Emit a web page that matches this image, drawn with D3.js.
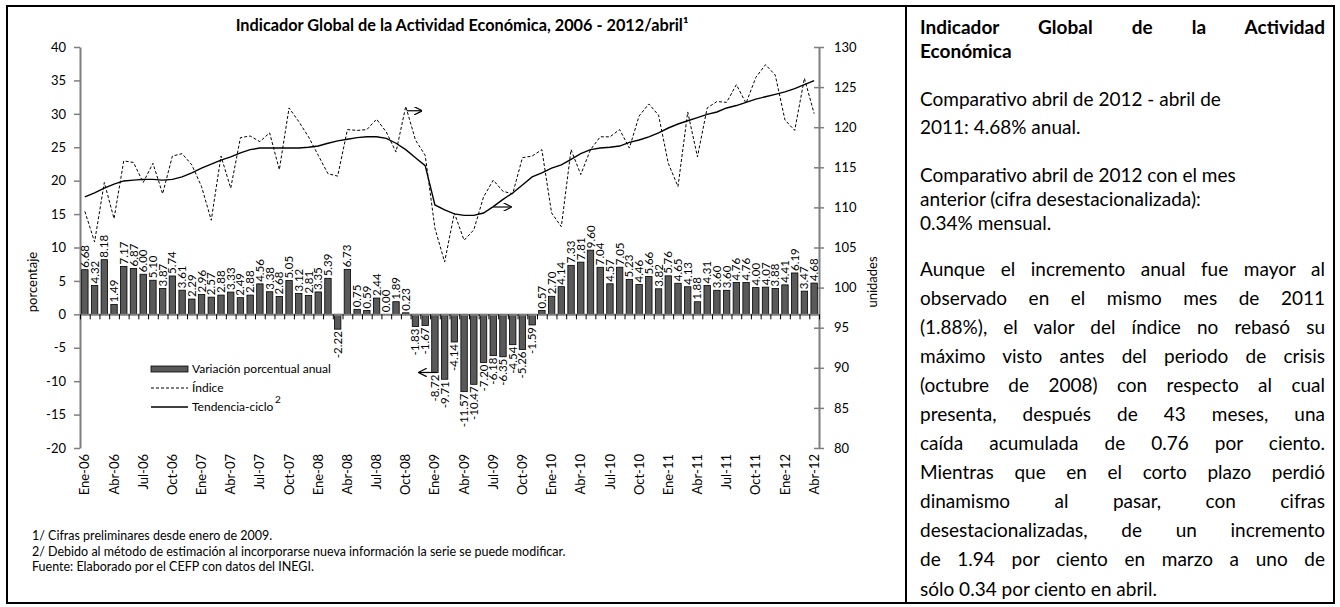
<!DOCTYPE html>
<html>
<head>
<meta charset="utf-8">
<title>Indicador Global de la Actividad Económica</title>
<script src="https://cdnjs.cloudflare.com/ajax/libs/d3/7.8.5/d3.min.js"></script>
<style>
  body { margin: 0; background: #fff; font-family: Lato, "Open Sans", sans-serif; }
  #wrap { position: relative; width: 1340px; height: 607px; }
  svg { position: absolute; left: 0; top: 0; }
  #panel { position: absolute; left: 920px; top: 0; width: 405px; font-size: 19px; color: #000; }
  .line { position: absolute; left: 0; width: 100%; white-space: nowrap; line-height: 20px; }
  .just { text-align: justify; text-align-last: justify; }
  .bold { font-weight: bold; }
</style>
</head>
<body>
<div id="wrap"></div>
<script>
// datos
var anios = [2006, 2007, 2008, 2009, 2010, 2011, 2012];
var meses = ["Ene","Feb","Mar","Abr","May","Jun","Jul","Ago","Sep","Oct","Nov","Dic"];

var variacion = [
  6.68, 4.32, 8.18, 1.49, 7.17, 6.87, 6.00, 5.10, 3.87, 5.74, 3.61, 2.29,
  2.96, 2.57, 2.88, 3.33, 2.49, 2.88, 4.56, 3.38, 2.68, 5.05, 3.12, 2.81,
  3.35, 5.39, -2.22, 6.73, 0.75, 0.59, 2.44, 0.00, 1.89, 0.23, -1.83, -1.67,
  -8.72, -9.71, -4.14, -11.57, -10.47, -7.20, -6.18, -6.35, -4.54, -5.26, -1.59, 0.57,
  2.70, 4.14, 7.33, 7.81, 9.60, 7.04, 4.57, 7.05, 5.23, 4.46, 5.66, 3.82,
  5.76, 4.65, 4.13, 1.88, 4.31, 3.60, 3.60, 4.76, 4.76, 4.00, 4.07, 3.88,
  4.41, 6.19, 3.47, 4.68
];

var indice = [
  109.5, 105.7, 113.1, 108.6, 115.8, 115.6, 113.1, 115.5, 111.7, 116.4, 116.7, 115.3,
  112.6, 108.4, 116.4, 112.4, 118.7, 118.9, 118.2, 119.3, 114.7, 122.4, 120.7, 118.8,
  116.5, 114.2, 113.9, 119.7, 119.6, 119.7, 121.0, 119.4, 116.9, 122.6, 118.4, 116.5,
  107.4, 103.2, 109.3, 105.9, 107.2, 111.3, 113.4, 112.0, 111.7, 116.2, 116.4, 117.2,
  109.3, 107.6, 117.2, 114.1, 117.2, 118.8, 118.8, 119.7, 117.4, 121.4, 122.9, 121.5,
  115.5, 112.6, 121.9, 116.3, 122.4, 123.2, 123.1, 125.3, 123.0, 126.2, 127.8, 126.5,
  120.9, 119.6, 126.1, 121.7
];

var tendencia = [
  111.3, 111.8, 112.4, 112.9, 113.3, 113.4, 113.5, 113.5, 113.4, 113.5, 113.8, 114.3,
  114.9, 115.4, 115.9, 116.3, 116.8, 117.2, 117.4, 117.4, 117.4, 117.4, 117.4, 117.5,
  117.65, 118.0, 118.3, 118.5, 118.7, 118.8, 118.8, 118.6, 118.0, 117.2, 116.2, 115.2,
  110.3, 109.7, 109.2, 109.0, 109.0, 109.3, 110.1, 111.0, 111.8, 112.8, 113.8, 114.3,
  114.9, 115.3, 116.0, 116.7, 117.2, 117.4, 117.5, 117.65, 118.1, 118.4, 118.8, 119.3,
  119.9, 120.4, 120.8, 121.2, 121.6, 121.9, 122.4, 122.7, 123.1, 123.5, 123.8, 124.1,
  124.4, 124.8, 125.3, 125.8
];

var ticksIzq = [-20, -15, -10, -5, 0, 5, 10, 15, 20, 25, 30, 35, 40];
var ticksDer = [80, 85, 90, 95, 100, 105, 110, 115, 120, 125, 130];

var notas = [
  "1/ Cifras preliminares desde enero de 2009.",
  "2/ Debido al método de estimación al incorporarse nueva información la serie se puede modificar.",
  "Fuente: Elaborado por el CEFP con datos del INEGI."
];

// flechas de la grafica: [indice inicio, indice fin, valor, eje]
var flechas = [
  [33.1, 34.6, 122.05, "der"],
  [42.0, 43.8, 110.05, "der"],
  [36.2, 34.4, -8.7, "izq"]
];

var parrafos = [
  { bold: true, lines: [["Indicador Global de la Actividad", true], ["Económica", false]] },
  { lines: [["Comparativo abril de 2012 - abril de", false], ["2011: 4.68% anual.", false]] },
  { lines: [["Comparativo abril de 2012 con el mes", false], ["anterior (cifra desestacionalizada):", false], ["0.34% mensual.", false]] },
  { lines: [
    ["Aunque el incremento anual fue mayor al", true],
    ["observado en el mismo mes de 2011", true],
    ["(1.88%), el valor del índice no rebasó su", true],
    ["máximo visto antes del periodo de crisis", true],
    ["(octubre de 2008) con respecto al cual", true],
    ["presenta, después de 43 meses, una", true],
    ["caída acumulada de 0.76 por ciento.", true],
    ["Mientras que en el corto plazo perdió", true],
    ["dinamismo al pasar, con cifras", true],
    ["desestacionalizadas, de un incremento", true],
    ["de 1.94 por ciento en marzo a uno de", true],
    ["sólo 0.34 por ciento en abril.", false]
  ] }
];
var baselines = [[33, 57], [105, 133], [181, 205, 229],
  [275, 304, 333, 362, 391, 420, 449, 478, 507, 536, 565, 595]];

var categorias = [];
anios.forEach(function(a) {
  meses.forEach(function(m) {
    if (categorias.length < variacion.length) categorias.push(m + "-" + String(a).slice(2));
  });
});

var W = 1340, H = 607;
var mLeft = 80, mRight = 819, mTop = 47, mBottom = 448;
var n = categorias.length;

var wrap = d3.select("#wrap");
var svg = wrap.append("svg").attr("width", W).attr("height", H);

// marcos
svg.append("rect").attr("x", 7).attr("y", 6).attr("width", 899).attr("height", 597)
  .style("fill", "none").style("stroke", "#000").style("stroke-width", 2);
svg.append("rect").attr("x", 906).attr("y", 6).attr("width", 428).attr("height", 597)
  .style("fill", "none").style("stroke", "#000").style("stroke-width", 2);

var x = d3.scaleBand().domain(d3.range(n)).range([mLeft, mRight]).paddingInner(0.34).paddingOuter(0.17);
var xc = function(i) { return x(i) + x.bandwidth() / 2; };
var xi = d3.scaleLinear().domain([0, n]).range([mLeft, mRight]);
var yL = d3.scaleLinear().domain([-20, 40]).range([mBottom, mTop]);
var yR = d3.scaleLinear().domain([80, 130]).range([mBottom, mTop]);

var axisColor = "#7f7f7f";
var fmt = function(d) { return d.toFixed(2); };

// titulo
svg.append("text").attr("x", 462).attr("y", 31).attr("text-anchor", "middle")
  .style("font-size", "16.3px").style("font-weight", "bold")
  .text("Indicador Global de la Actividad Económica, 2006 - 2012/abril¹");

// eje izquierdo
var gL = svg.append("g").attr("transform", "translate(" + mLeft + ",0)")
  .call(d3.axisLeft(yL).tickValues(ticksIzq).tickFormat(function(d) { return String(d); })
    .tickSize(6).tickPadding(8).tickSizeOuter(0));

// eje derecho
var gR = svg.append("g").attr("transform", "translate(" + mRight + ",0)")
  .call(d3.axisRight(yR).tickValues(ticksDer).tickFormat(function(d) { return String(d); })
    .tickSize(5).tickPadding(10).tickSizeOuter(0));
gR.selectAll(".tick line").attr("x1", -5);

[gL, gR].forEach(function(g) {
  g.select(".domain").style("stroke", axisColor).style("stroke-width", 2);
  g.selectAll(".tick line").style("stroke", axisColor).style("stroke-width", 1.5);
  g.selectAll("text").style("font-size", "13px").style("font-family", "Lato").style("fill", "#000");
});

// titulos de ejes
svg.append("text").attr("transform", "translate(37,282) rotate(-90)")
  .attr("text-anchor", "middle").style("font-size", "13px").text("porcentaje");
svg.append("text").attr("transform", "translate(877,282) rotate(-90)")
  .attr("text-anchor", "middle").style("font-size", "13px").text("unidades");

// barras
svg.append("g").selectAll("rect").data(variacion).join("rect")
  .attr("x", function(d, i) { return x(i); })
  .attr("width", x.bandwidth())
  .attr("y", function(d) { return Math.min(yL(d), yL(0)); })
  .attr("height", function(d) { return Math.abs(yL(d) - yL(0)); })
  .style("fill", "#595959").style("stroke", "#000").style("stroke-width", 0.8);

// eje x en cero
var gX = svg.append("g").attr("transform", "translate(0," + yL(0) + ")")
  .call(d3.axisBottom(xi).tickValues(d3.range(n + 1)).tickFormat("").tickSize(5).tickSizeOuter(0));
gX.select(".domain").style("stroke", axisColor).style("stroke-width", 2);
gX.selectAll(".tick line").style("stroke", "#000").style("stroke-width", 1);

// etiquetas de categorias
svg.append("g").selectAll("text").data(categorias).join("text")
  .filter(function(d, i) { return i % 3 === 0; })
  .attr("transform", function(d) { var i = categorias.indexOf(d); return "translate(" + xc(i) + "," + (mBottom + 6) + ") rotate(-90)"; })
  .attr("dy", "0.35em").attr("text-anchor", "end")
  .style("font-size", "13px").text(function(d) { return d; });

// etiquetas de barras
svg.append("g").selectAll("text").data(variacion).join("text")
  .attr("transform", function(d, i) {
    var y = d >= 0 ? yL(d) - 2 : yL(d) + 2;
    return "translate(" + xc(i) + "," + y + ") rotate(-90)";
  })
  .attr("dy", "0.35em")
  .attr("text-anchor", function(d) { return d >= 0 ? "start" : "end"; })
  .style("font-size", "11.5px")
  .text(fmt);

// lineas
var linea = d3.line().x(function(d, i) { return xc(i); }).y(function(d) { return yR(d); });
svg.append("path").datum(indice).attr("d", linea)
  .style("fill", "none").style("stroke", "#000").style("stroke-width", 1).style("stroke-dasharray", "3,2");
svg.append("path").datum(tendencia).attr("d", linea)
  .style("fill", "none").style("stroke", "#000").style("stroke-width", 1.4);

// flechas
svg.append("defs").append("marker").attr("id", "punta")
  .attr("viewBox", "0 0 8 8").attr("refX", 7).attr("refY", 4)
  .attr("markerWidth", 7).attr("markerHeight", 7).attr("orient", "auto")
  .append("path").attr("d", "M0,0 L8,4 L0,8").style("fill", "none").style("stroke", "#000").style("stroke-width", 1.2);
svg.append("g").selectAll("line").data(flechas).join("line")
  .attr("x1", function(d) { return xi(d[0] + 0.5); })
  .attr("x2", function(d) { return xi(d[1] + 0.5); })
  .attr("y1", function(d) { return d[3] === "der" ? yR(d[2]) : yL(d[2]); })
  .attr("y2", function(d) { return d[3] === "der" ? yR(d[2]) : yL(d[2]); })
  .attr("marker-end", "url(#punta)")
  .style("stroke", "#000").style("stroke-width", 1.2);

// leyenda
var ley = svg.append("g").attr("transform", "translate(151,369)");
ley.append("rect").attr("x", 0).attr("y", -3).attr("width", 37).attr("height", 6)
  .style("fill", "#595959").style("stroke", "#000").style("stroke-width", 0.8);
ley.append("line").attr("x1", 0).attr("x2", 37).attr("y1", 19).attr("y2", 19)
  .style("stroke", "#000").style("stroke-dasharray", "3,2");
ley.append("line").attr("x1", 0).attr("x2", 37).attr("y1", 38).attr("y2", 38)
  .style("stroke", "#000").style("stroke-width", 1.4);
var leyTxt = ["Variación porcentual anual", "Índice", "Tendencia-ciclo"];
ley.selectAll("text.l").data(leyTxt).join("text").attr("class", "l")
  .attr("x", 41).attr("y", function(d, i) { return i * 19; }).attr("dy", "0.35em")
  .style("font-size", "12px").text(function(d) { return d; });
ley.append("text").attr("x", 124).attr("y", 34).style("font-size", "10px").text("2");

// notas
svg.append("g").selectAll("text").data(notas).join("text")
  .attr("x", 32).attr("y", function(d, i) { return 540 + i * 15.5; })
  .style("font-size", "12.5px").text(function(d) { return d; });

// panel de texto
var panel = wrap.append("div").attr("id", "panel");
parrafos.forEach(function(p, k) {
  p.lines.forEach(function(l, j) {
    panel.append("div")
      .attr("class", "line" + (l[1] ? " just" : "") + (p.bold ? " bold" : ""))
      .style("top", (baselines[k][j] - 16) + "px")
      .text(l[0]);
  });
});
</script>
</body>
</html>
